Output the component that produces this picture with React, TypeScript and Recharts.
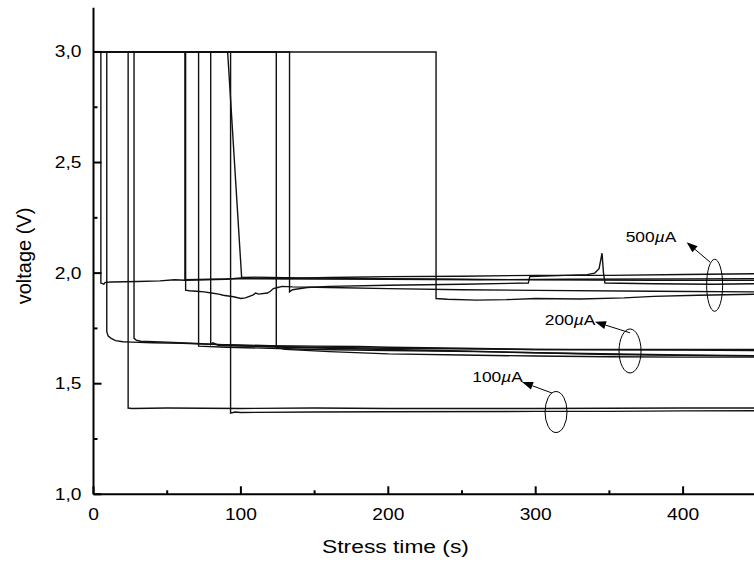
import { LineChart, Line, XAxis, YAxis, ReferenceDot, ReferenceLine } from "recharts";

type Pt = [number, number];

// axis ticks (minor + major)
const xTicks = [0, 50, 100, 150, 200, 250, 300, 350, 400, 450];
const xLabeled = [0, 100, 200, 300, 400];
const yTicks = [1, 1.25, 1.5, 1.75, 2, 2.25, 2.5, 2.75, 3];
const yLabeled = [1, 1.5, 2, 2.5, 3];

// 500 uA traces
const t500a: Pt[] = [[0, 3], [5, 3], [5, 1.955], [7, 1.95], [8, 1.958], [12, 1.96], [30, 1.962], [45, 1.965], [55, 1.97], [62, 1.968], [75, 1.97], [90, 1.972], [100, 1.978], [130, 1.976], [160, 1.98], [200, 1.984], [250, 1.986], [300, 1.99], [350, 1.99], [400, 1.994], [450, 1.997]];
const t500b: Pt[] = [[0, 3], [62.5, 3], [62.5, 1.923], [65, 1.92], [70, 1.918], [75, 1.915], [80, 1.91], [85, 1.905], [88, 1.9], [95, 1.893], [100, 1.885], [103, 1.888], [108, 1.9], [110, 1.91], [112, 1.905], [118, 1.91], [120, 1.918], [122, 1.93], [125, 1.935], [128, 1.94], [135, 1.938], [160, 1.935], [200, 1.93], [250, 1.925], [300, 1.922], [380, 1.918], [450, 1.915]];
const t500c: Pt[] = [[0, 3], [62, 3], [62, 1.97], [80, 1.972], [100, 1.975], [150, 1.973], [200, 1.972], [260, 1.97], [320, 1.972], [400, 1.974], [450, 1.975]];
const t500d: Pt[] = [[0, 3], [91, 3], [100.5, 1.98], [110, 1.982], [140, 1.978], [200, 1.975], [250, 1.972], [300, 1.97], [380, 1.968], [450, 1.968]];
const t500e: Pt[] = [[0, 3], [133, 3], [133, 1.915], [135, 1.925], [145, 1.935], [160, 1.94], [200, 1.945], [250, 1.95], [295, 1.955], [296, 1.985], [320, 1.99], [335, 1.993], [340, 2.0], [343, 2.02], [345, 2.09], [346, 2.0], [347, 1.955], [380, 1.952], [420, 1.95], [450, 1.952]];
const t500f: Pt[] = [[0, 3], [232.4, 3], [232.4, 1.885], [240, 1.882], [260, 1.878], [280, 1.88], [300, 1.885], [330, 1.883], [360, 1.888], [380, 1.895], [410, 1.9], [450, 1.905]];

// 200 uA traces
const t200a: Pt[] = [[0, 3], [9, 3], [9, 1.735], [10, 1.715], [12, 1.705], [15, 1.695], [20, 1.69], [26, 1.688], [40, 1.685], [60, 1.683], [80, 1.678], [100, 1.675], [120, 1.672], [150, 1.67], [180, 1.668], [200, 1.665], [250, 1.66], [300, 1.655], [350, 1.653], [400, 1.652], [450, 1.65]];
const t200b: Pt[] = [[0, 3], [27.5, 3], [27.5, 1.705], [29, 1.697], [32, 1.692], [50, 1.688], [70, 1.682], [100, 1.672], [130, 1.665], [160, 1.66], [200, 1.655], [250, 1.648], [300, 1.64], [350, 1.632], [400, 1.628], [450, 1.625]];
const t200c: Pt[] = [[0, 3], [71.3, 3], [71.3, 1.67], [90, 1.665], [120, 1.66], [150, 1.655], [200, 1.65], [260, 1.645], [300, 1.64], [400, 1.63], [450, 1.627]];
const t200d: Pt[] = [[0, 3], [79.5, 3], [79.5, 1.677], [81, 1.685], [85, 1.673], [100, 1.67], [150, 1.665], [200, 1.66], [300, 1.655], [400, 1.655], [450, 1.655]];
const t200e: Pt[] = [[0, 3], [124, 3], [124, 1.665], [130, 1.655], [160, 1.645], [200, 1.635], [250, 1.63], [300, 1.625], [350, 1.622], [400, 1.62], [450, 1.62]];

// 100 uA traces
const t100a: Pt[] = [[0, 3], [23.5, 3], [23.5, 1.39], [26, 1.388], [50, 1.39], [100, 1.388], [150, 1.39], [200, 1.388], [300, 1.388], [400, 1.39], [450, 1.39]];
const t100b: Pt[] = [[0, 3], [93, 3], [93, 1.367], [96, 1.372], [100, 1.37], [150, 1.372], [200, 1.373], [300, 1.375], [350, 1.375], [400, 1.377], [450, 1.378]];

const traces = [t500a, t500b, t500c, t500d, t500e, t500f, t200a, t200b, t200c, t200d, t200e, t100a, t100b];

// annotations: label position, arrow (from ellipse to label), ellipse centre
const groupLabels = ["500", "200", "100"];
const labelAt: Pt[] = [[378.2, 2.164], [323.3, 1.789], [274.1, 1.531]];
const arrowFrom: Pt[] = [[418.2, 2.05], [364, 1.73], [311, 1.458]];
const arrowTo: Pt[] = [[402.4, 2.14], [340.2, 1.78], [290.7, 1.508]];
const ellipseAt: Pt[] = [[421.4, 1.945], [364, 1.648], [313.8, 1.372]];
const ellipseR: Pt[] = [[8, 26], [11, 22], [11, 20.5]];

const FONT = "'Liberation Sans', Arial, sans-serif";
const toRows = (pts: Pt[]) => pts.map(([x, y]) => ({ x, y }));

const fmtY = (v: number) => v.toFixed(1).replace(".", ",");

function LeftTick({ x, y, payload }: any) {
  const major = yLabeled.includes(payload.value);
  return (
    <g>
      <line x1={x} x2={x + (major ? 8 : 4)} y1={y} y2={y} stroke="#000" strokeWidth={2} />
      {major && (
        <text transform={`translate(${x - 12},${y}) scale(1.2,1)`} textAnchor="end" dominantBaseline="central" fontSize={16} fontFamily={FONT} fill="#000">
          {fmtY(payload.value)}
        </text>
      )}
    </g>
  );
}

function RightTick({ x, y, payload }: any) {
  const major = yLabeled.includes(payload.value);
  return <line x1={x} x2={x - (major ? 8 : 4)} y1={y} y2={y} stroke="#000" strokeWidth={2} />;
}

function BottomTick({ x, y, payload }: any) {
  const major = xLabeled.includes(payload.value);
  return (
    <g>
      <line x1={x} x2={x} y1={y} y2={y - (major ? 8 : 4)} stroke="#000" strokeWidth={2} />
      {major && (
        <text transform={`translate(${x},${y + 20}) scale(1.2,1)`} textAnchor="middle" dominantBaseline="central" fontSize={16} fontFamily={FONT} fill="#000">
          {payload.value}
        </text>
      )}
    </g>
  );
}

function TopTick({ x, y, payload }: any) {
  const major = xLabeled.includes(payload.value);
  return <line x1={x} x2={x} y1={y} y2={y + (major ? 8 : 4)} stroke="#000" strokeWidth={2} />;
}

function Arrow(props: any) {
  const { x1, y1, x2, y2 } = props;
  const a = Math.atan2(y2 - y1, x2 - x1);
  const len = 11;
  const w = 4;
  const bx = x2 - len * Math.cos(a);
  const by = y2 - len * Math.sin(a);
  const px = -Math.sin(a) * w;
  const py = Math.cos(a) * w;
  return (
    <g>
      <line x1={x1} y1={y1} x2={bx} y2={by} stroke="#000" strokeWidth={1} />
      <polygon points={`${x2},${y2} ${bx + px},${by + py} ${bx - px},${by - py}`} fill="#000" />
    </g>
  );
}

export default function App() {
  return (
    <div style={{ position: "fixed", left: 0, top: 0, width: 754, height: 572, overflow: "hidden", background: "#fff" }}>
      <LineChart width={760} height={572} margin={{ top: 7.7, right: 3.2, left: 0, bottom: 0 }}>
        <XAxis
          dataKey="x"
          type="number"
          domain={[0, 450]}
          ticks={xTicks}
          interval={0}
          height={77.7}
          tickSize={0}
          tickMargin={0}
          axisLine={{ stroke: "#000", strokeWidth: 2 }}
          tick={<BottomTick />}
          allowDataOverflow
          label={{
            content: ({ viewBox }: any) => (
              <text transform={`translate(${viewBox.x + 302},${viewBox.y + 52}) scale(1.2,1)`} textAnchor="middle" dominantBaseline="central" fontSize={19} fontFamily={FONT} fill="#000">
                Stress time (s)
              </text>
            ),
          }}
        />
        <XAxis
          xAxisId="top"
          orientation="top"
          type="number"
          domain={[0, 450]}
          ticks={xTicks}
          interval={0}
          height={0}
          tickSize={0}
          tickMargin={0}
          axisLine={{ stroke: "#000", strokeWidth: 2 }}
          tick={<TopTick />}
        />
        <YAxis
          type="number"
          domain={[1, 3.2]}
          ticks={yTicks}
          interval={0}
          width={93.5}
          tickSize={0}
          tickMargin={0}
          axisLine={{ stroke: "#000", strokeWidth: 2 }}
          tick={<LeftTick />}
          allowDataOverflow
          label={{
            content: () => (
              <text transform={`translate(24,256) rotate(-90)`} textAnchor="middle" dominantBaseline="central" fontSize={20} fontFamily={FONT} fill="#000">
                voltage (V)
              </text>
            ),
          }}
        />
        <YAxis
          yAxisId="right"
          orientation="right"
          type="number"
          domain={[1, 3.2]}
          ticks={yTicks}
          interval={0}
          width={0}
          tickSize={0}
          tickMargin={0}
          axisLine={{ stroke: "#000", strokeWidth: 2 }}
          tick={<RightTick />}
        />
        {traces.map((t, i) => (
          <Line
            key={i}
            data={toRows(t)}
            dataKey="y"
            type="linear"
            stroke="#111"
            strokeWidth={1.4}
            dot={false}
            activeDot={false}
            isAnimationActive={false}
          />
        ))}
        {groupLabels.map((g, i) => (
          <ReferenceLine
            key={"a" + i}
            segment={[
              { x: arrowFrom[i][0], y: arrowFrom[i][1] },
              { x: arrowTo[i][0], y: arrowTo[i][1] },
            ]}
            shape={(p: any) => <Arrow {...p} />}
          />
        ))}
        {groupLabels.map((g, i) => (
          <ReferenceDot
            key={"e" + i}
            x={ellipseAt[i][0]}
            y={ellipseAt[i][1]}
            shape={(p: any) => <ellipse cx={p.cx} cy={p.cy} rx={ellipseR[i][0]} ry={ellipseR[i][1]} fill="none" stroke="#000" strokeWidth={1} />}
          />
        ))}
        {groupLabels.map((g, i) => (
          <ReferenceDot
            key={"t" + i}
            x={labelAt[i][0]}
            y={labelAt[i][1]}
            shape={(p: any) => (
              <text transform={`translate(${p.cx},${p.cy}) scale(1.2,1)`} textAnchor="middle" dominantBaseline="central" fontSize={14.5} fontFamily={FONT} fill="#000">
                {g}
                <tspan fontStyle="italic">µ</tspan>A
              </text>
            )}
          />
        ))}
      </LineChart>
    </div>
  );
}
